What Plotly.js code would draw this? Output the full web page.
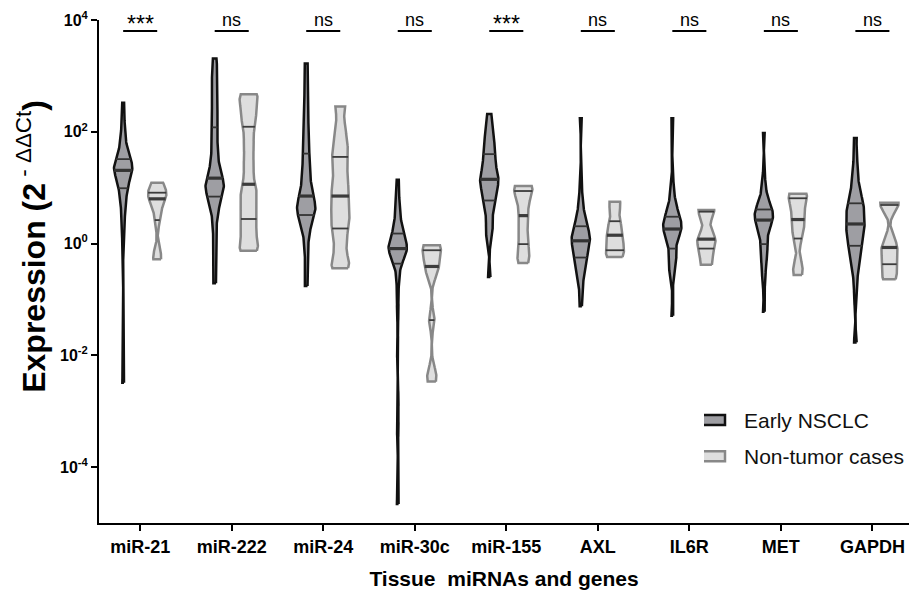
<!DOCTYPE html>
<html>
<head>
<meta charset="utf-8">
<script src="https://cdn.plot.ly/plotly-3.0.1.min.js"></script>
<style>html,body{margin:0;padding:0;background:#fff}#chart{width:909px;height:594px}</style>
</head>
<body>
<div id="chart"></div>
<script>
// ---------- data ----------
const categories = ['miR-21', 'miR-222', 'miR-24', 'miR-30c', 'miR-155', 'AXL', 'IL6R', 'MET', 'GAPDH'];
const significance = ['***', 'ns', 'ns', 'ns', '***', 'ns', 'ns', 'ns', 'ns'];
const groupNames = ['Early NSCLC', 'Non-tumor cases'];
const yTickVals = [1e-4, 1e-2, 1, 1e2, 1e4];
const yTickText = ['10<sup>-4</sup>', '10<sup>-2</sup>', '10<sup>0</sup>', '10<sup>2</sup>', '10<sup>4</sup>'];
const xTitle = 'Tissue\u00a0 miRNAs and genes';
const yTitle = '<b>Expression (2</b><sup> - ΔΔCt</sup><b>)</b>';

// Expression (2^-ddCt), Early NSCLC tissue
const early_miR21 = [0.00324, 1.12, 2.24, 3.55, 5.01, 6.61, 8.32, 9.77, 11.2, 13.2, 15.1, 17.0, 18.6, 19.5, 20.4, 21.9, 23.4, 25.1, 26.9, 28.8, 30.9, 32.4, 38.0, 45.7, 57.5, 75.9, 100, 158, 331];
const early_miR222 = [0.195, 0.501, 1.12, 2.24, 3.55, 4.79, 5.89, 6.92, 7.94, 8.91, 10.0, 11.0, 12.0, 13.2, 14.8, 17.4, 21.4, 28.2, 38.0, 52.5, 79.4, 120, 178, 263, 398, 575, 832, 1259, 2042];
const early_miR24 = [0.174, 0.398, 0.891, 1.41, 2.00, 2.51, 2.88, 3.24, 3.63, 4.07, 4.47, 4.90, 5.37, 6.17, 7.08, 8.51, 10.5, 13.2, 17.0, 22.4, 30.2, 40.7, 60.3, 93.3, 151, 251, 447, 832, 1660];
const early_miR30c = [0.0000219, 0.000501, 0.00158, 0.0126, 0.0631, 0.178, 0.316, 0.437, 0.525, 0.603, 0.661, 0.708, 0.759, 0.794, 0.813, 0.871, 0.933, 1.00, 1.07, 1.17, 1.32, 1.51, 1.78, 2.14, 2.63, 3.39, 4.68, 7.59, 13.8];
const early_miR155 = [0.251, 1.26, 1.66, 1.91, 3.16, 4.17, 5.01, 5.89, 6.92, 8.13, 9.55, 11.0, 12.3, 13.2, 14.1, 15.5, 17.0, 19.5, 23.4, 28.2, 33.9, 39.8, 45.7, 53.7, 66.1, 83.2, 107, 145, 209];
const early_AXL = [0.0759, 0.141, 0.224, 0.282, 0.355, 0.417, 0.490, 0.562, 0.631, 0.708, 0.794, 0.891, 0.977, 1.05, 1.12, 1.20, 1.29, 1.38, 1.51, 1.66, 1.82, 2.04, 2.34, 2.75, 3.39, 4.47, 6.31, 12.0, 174];
const early_IL6R = [0.0513, 0.240, 0.355, 0.417, 0.468, 0.525, 0.631, 0.813, 1.05, 1.26, 1.45, 1.58, 1.70, 1.78, 1.82, 1.91, 2.04, 2.24, 2.45, 2.69, 2.88, 3.02, 3.39, 3.89, 4.57, 5.62, 7.59, 12.6, 174];
const early_MET = [0.0603, 0.224, 0.263, 0.501, 0.575, 0.661, 0.832, 0.977, 1.26, 1.58, 1.91, 2.19, 2.34, 2.51, 2.63, 2.82, 3.02, 3.24, 3.47, 3.72, 3.89, 4.07, 4.47, 5.01, 5.75, 7.08, 9.55, 15.8, 95.5];
const early_GAPDH = [0.0170, 0.112, 0.251, 0.380, 0.501, 0.631, 0.776, 0.912, 1.05, 1.20, 1.38, 1.58, 1.78, 2.00, 2.24, 2.51, 2.82, 3.24, 3.72, 4.27, 4.79, 5.25, 6.03, 7.24, 9.12, 12.6, 19.1, 31.6, 77.6];

// Expression (2^-ddCt), non-tumor tissue
const nonTumor_miR21 = [0.525, 0.631, 2.63, 5.01, 6.31, 7.24, 8.13, 10.0, 12.3];
const nonTumor_miR222 = [0.741, 0.955, 1.66, 2.75, 4.47, 7.08, 11.5, 25.1, 56.2, 123, 209, 355, 468];
const nonTumor_miR24 = [0.363, 0.501, 1.00, 1.86, 2.82, 4.47, 7.08, 11.2, 20.0, 35.5, 56.2, 112, 282];
const nonTumor_miR30c = [0.00339, 0.00501, 0.0427, 0.282, 0.389, 0.501, 0.759, 0.871, 0.933];
const nonTumor_miR155 = [0.447, 0.631, 0.977, 1.78, 3.16, 5.25, 8.71, 9.55, 10.7];
const nonTumor_AXL = [0.575, 0.631, 0.759, 1.05, 1.41, 1.78, 2.51, 5.01, 5.62];
const nonTumor_IL6R = [0.417, 0.479, 0.813, 1.07, 1.20, 1.41, 3.72, 3.89, 3.98];
const nonTumor_MET = [0.275, 0.417, 1.23, 2.00, 2.69, 3.98, 6.46, 7.24, 7.76];
const nonTumor_GAPDH = [0.229, 0.282, 0.427, 0.631, 0.851, 1.12, 4.90, 5.13, 5.37];

const earlySeries = [early_miR21, early_miR222, early_miR24, early_miR30c, early_miR155, early_AXL, early_IL6R, early_MET, early_GAPDH];
const nonTumorSeries = [nonTumor_miR21, nonTumor_miR222, nonTumor_miR24, nonTumor_miR30c, nonTumor_miR155, nonTumor_AXL, nonTumor_IL6R, nonTumor_MET, nonTumor_GAPDH];

// ---------- styling ----------
const FONT = 'Liberation Sans, Arial, Helvetica, sans-serif';
const GROUP_OFFSET = 0.186;   // category units
const HALF_WIDTH = 0.100;     // category units
const BANDWIDTH = 0.15;       // decades
const styles = [
  {fill: '#9e9ea3', line: '#111111', width: 2.5, inner: '#333333'},
  {fill: '#dedede', line: '#888888', width: 2.5, inner: '#3c3c3c'}
];

function quantile(sorted, p) {
  const pos = (sorted.length - 1) * p;
  const lo = Math.floor(pos), hi = Math.ceil(pos);
  return sorted[lo] + (sorted[hi] - sorted[lo]) * (pos - lo);
}

function buildViolin(values, center, st, name, group, showLegend) {
  const logs = values.map(Math.log10).sort((a, b) => a - b);
  const lo = logs[0], hi = logs[logs.length - 1];
  const N = 200;
  const dens = t => logs.reduce((s, v) => s + Math.exp(-0.5 * Math.pow((t - v) / BANDWIDTH, 2)), 0);
  const ts = [];
  for (let k = 0; k <= N; k++) ts.push(lo + (hi - lo) * k / N);
  const ds = ts.map(dens);
  const maxD = Math.max.apply(null, ds);
  const hw = t => HALF_WIDTH * dens(t) / maxD;
  const xs = [], ys = [];
  for (let k = 0; k <= N; k++) { xs.push(center + HALF_WIDTH * ds[k] / maxD); ys.push(Math.pow(10, ts[k])); }
  for (let k = N; k >= 0; k--) { xs.push(center - HALF_WIDTH * ds[k] / maxD); ys.push(Math.pow(10, ts[k])); }
  xs.push(xs[0]); ys.push(ys[0]);
  const body = {
    type: 'scatter', mode: 'lines', x: xs, y: ys, fill: 'toself',
    fillcolor: st.fill, line: {color: st.line, width: st.width},
    name: name, legendgroup: group, showlegend: showLegend, hoverinfo: 'skip'
  };
  const q1 = quantile(logs, 0.25), med = quantile(logs, 0.5), q3 = quantile(logs, 0.75);
  const seg = q => { const w = hw(q); return [[center - w, center + w], [Math.pow(10, q), Math.pow(10, q)]]; };
  const a = seg(q1), b = seg(q3), m = seg(med);
  const quart = {
    type: 'scatter', mode: 'lines', x: a[0].concat([null], b[0]), y: a[1].concat([null], b[1]),
    line: {color: st.inner, width: 1.8}, showlegend: false, hoverinfo: 'skip'
  };
  const median = {
    type: 'scatter', mode: 'lines', x: m[0], y: m[1],
    line: {color: st.inner, width: 3.2}, showlegend: false, hoverinfo: 'skip'
  };
  return [body, quart, median];
}

const traces = [];
categories.forEach((c, i) => {
  traces.push.apply(traces, buildViolin(earlySeries[i], i - GROUP_OFFSET, styles[0], groupNames[0], 'early', i === 0));
  traces.push.apply(traces, buildViolin(nonTumorSeries[i], i + GROUP_OFFSET, styles[1], groupNames[1], 'nontumor', i === 0));
});

const shapes = categories.map((c, i) => ({
  type: 'line', xref: 'x', yref: 'paper', x0: i - GROUP_OFFSET, x1: i + GROUP_OFFSET, y0: 0.978, y1: 0.978,
  line: {color: '#000', width: 2}
}));
const annotations = categories.map((c, i) => {
  const stars = significance[i].indexOf('*') >= 0;
  return {
    xref: 'x', yref: 'paper', x: i, y: stars ? 0.962 : 0.976, yanchor: 'bottom', showarrow: false,
    text: significance[i], font: {family: FONT, size: stars ? 23 : 18, color: '#000'}
  };
});
annotations.push({
  xref: 'paper', yref: 'paper', x: -0.084, y: 0.551, xanchor: 'center', yanchor: 'middle',
  textangle: -90, showarrow: false, text: yTitle,
  font: {family: FONT, size: 32, color: '#000'}
});

const layout = {
  width: 909, height: 594,
  margin: {l: 99, r: 0, t: 20, b: 71},
  paper_bgcolor: '#fff', plot_bgcolor: '#fff',
  font: {family: FONT, color: '#000'},
  showlegend: true,
  legend: {
    x: 0.747, y: 0.245, xanchor: 'left', yanchor: 'top',
    font: {family: FONT, size: 21, color: '#111'},
    bgcolor: 'rgba(0,0,0,0)', tracegroupgap: 6, traceorder: 'grouped'
  },
  xaxis: {
    type: 'linear', range: [-0.45, 8.40], tickvals: categories.map((c, i) => i), ticktext: categories,
    showline: true, linecolor: '#000', linewidth: 2, ticks: 'outside', ticklen: 6, tickwidth: 2, tickcolor: '#000',
    showgrid: false, zeroline: false,
    tickfont: {family: FONT, size: 18, weight: 'bold', color: '#000'},
    title: {text: xTitle, font: {family: FONT, size: 21, weight: 'bold', color: '#000'}, standoff: 16}
  },
  yaxis: {
    type: 'log', range: [-5, 4], tickvals: yTickVals, ticktext: yTickText,
    showline: true, linecolor: '#000', linewidth: 2, ticks: 'outside', ticklen: 6, tickwidth: 2, tickcolor: '#000',
    showgrid: false, zeroline: false,
    tickfont: {family: FONT, size: 16, weight: 'bold', color: '#000'}
  },
  shapes: shapes,
  annotations: annotations
};

Plotly.newPlot('chart', traces, layout, {staticPlot: true, displayModeBar: false}).then(() => {
  document.querySelectorAll('.legend .traces').forEach(g => {
    const f = g.querySelector('.legendfill path');
    const l = g.querySelector('.legendlines path');
    if (f) f.setAttribute('d', 'M-4,-5h25v10h-25z');
    if (l) l.setAttribute('d', 'M-4,-5h25v10h-25z');
  });
});
</script>
</body>
</html>
